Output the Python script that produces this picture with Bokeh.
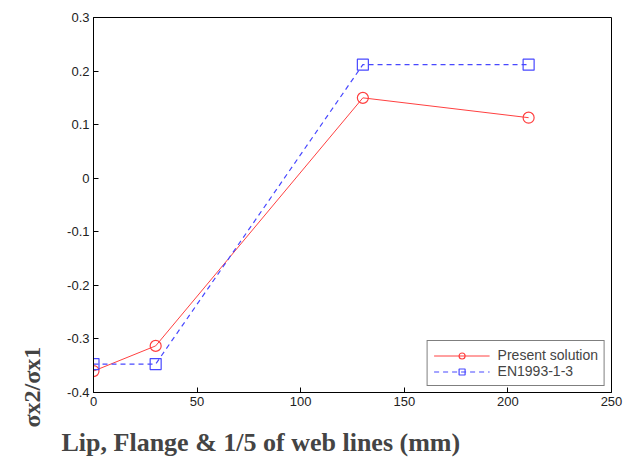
from bokeh.plotting import figure
from bokeh.models import Title, Range1d, FixedTicker, Legend, LegendItem
from bokeh.embed import file_html
from bokeh.resources import INLINE

x_vals = [0, 30, 130, 210]
present = [-0.36, -0.313, 0.15, 0.113]
en1993 = [-0.347, -0.347, 0.212, 0.212]
x_ticks = [0, 50, 100, 150, 200, 250]
y_ticks = [-0.4, -0.3, -0.2, -0.1, 0, 0.1, 0.2, 0.3]

p = figure(width=627, height=473, output_backend="svg", toolbar_location=None,
           x_range=Range1d(0, 250), y_range=Range1d(-0.4, 0.3),
           min_border_left=93, min_border_right=16, min_border_top=17, min_border_bottom=81)
p.grid.visible = False
p.outline_line_color = "black"
p.outline_line_width = 1
p.background_fill_color = "white"

for ax in (p.xaxis[0], p.yaxis[0]):
    ax.major_tick_in = 5
    ax.major_tick_out = 0
    ax.minor_tick_line_color = None
    ax.axis_line_color = "black"
    ax.major_tick_line_color = "black"
    ax.major_label_text_font = "Liberation Sans"
    ax.major_label_text_font_size = "13px"
    ax.major_label_text_color = "#222222"
p.xaxis.ticker = FixedTicker(ticks=x_ticks)
p.yaxis.ticker = FixedTicker(ticks=y_ticks)
p.xaxis.major_label_overrides = {v: str(v) for v in x_ticks}
p.yaxis.major_label_overrides = {v: ("0" if v == 0 else f"{v:g}") for v in y_ticks}
p.xaxis.major_label_standoff = 4
p.yaxis.major_label_standoff = 4

red = "#ff4040"
blue = "#4848ff"
l1 = p.line(x_vals, present, line_color=red, line_width=1)
s1 = p.scatter(x_vals, present, marker="circle", size=11, fill_color=None, line_color=red, line_width=1.2)
l2 = p.line(x_vals, en1993, line_color=blue, line_width=1.2, line_dash="5 4")
s2 = p.scatter(x_vals, en1993, marker="square", size=11, fill_color=None, line_color=blue, line_width=1.2)

legend = Legend(items=[LegendItem(label="Present solution", renderers=[l1, s1]),
                       LegendItem(label="EN1993-1-3", renderers=[l2, s2])],
                location="bottom_right")
legend.border_line_color = "black"
legend.border_line_width = 1
legend.label_text_font = "Liberation Sans"
legend.label_text_font_size = "14px"
legend.glyph_width = 56
legend.label_standoff = 8
legend.spacing = 0
legend.padding = 6
legend.margin = 6
legend.label_height = 15
legend.glyph_height = 15
p.add_layout(legend)

xt = Title(text="Lip, Flange & 1/5 of web lines (mm)", align="left", offset=-32,
           text_font="Liberation Serif", text_font_style="bold", text_font_size="26px",
           standoff=34)
p.add_layout(xt, "below")
yt = Title(text="σx2/σx1", align="left", offset=-35, vertical_align="top",
           text_font="Liberation Serif", text_font_style="bold", text_font_size="24px",
           standoff=35)
p.add_layout(yt, "left")

open("out.html", "w").write(file_html(p, INLINE))
